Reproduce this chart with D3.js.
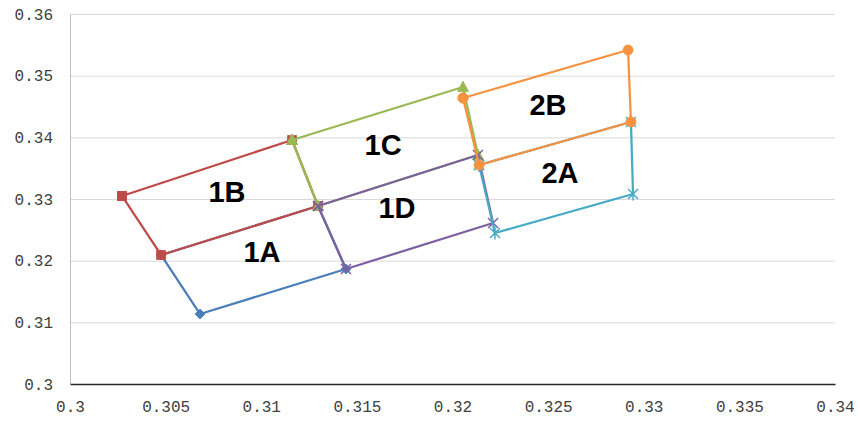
<!DOCTYPE html>
<html><head><meta charset="utf-8">
<script src="https://cdn.jsdelivr.net/npm/d3@7"></script>
<style>body{margin:0;background:#fff}svg{display:block}</style>
</head><body><div id="chart"></div>
<script>
// ---- data ----
const xTicks = [0.3, 0.305, 0.31, 0.315, 0.32, 0.325, 0.33, 0.335, 0.34];
const yTicks = [0.3, 0.31, 0.32, 0.33, 0.34, 0.35, 0.36];
const xTickLabels = ["0.3","0.305","0.31","0.315","0.32","0.325","0.33","0.335","0.34"];
const yTickLabels = ["0.3","0.31","0.32","0.33","0.34","0.35","0.36"];

const seriesNames = ["1A","1B","1C","1D","2A","2B"];
const s1A_x = [0.30476, 0.30680, 0.31443, 0.31297, 0.30476];
const s1A_y = [0.32092, 0.31135, 0.31865, 0.32886, 0.32092];
const s1B_x = [0.30272, 0.30476, 0.31297, 0.31161, 0.30272];
const s1B_y = [0.33049, 0.32092, 0.32886, 0.33957, 0.33049];
const s1C_x = [0.31161, 0.31297, 0.32133, 0.32055, 0.31161];
const s1C_y = [0.33957, 0.32886, 0.33714, 0.34816, 0.33957];
const s1D_x = [0.31297, 0.31443, 0.32212, 0.32133, 0.31297];
const s1D_y = [0.32886, 0.31865, 0.32611, 0.33714, 0.32886];
const s2A_x = [0.32139, 0.32222, 0.32944, 0.32933, 0.32139];
const s2A_y = [0.33551, 0.32449, 0.33081, 0.34249, 0.33551];
const s2B_x = [0.32055, 0.32139, 0.32933, 0.32918, 0.32055];
const s2B_y = [0.34638, 0.33551, 0.34249, 0.35416, 0.34638];

const areaLabels = ["1B","1A","1C","1D","2B","2A"];
const areaLabelX = [0.30821, 0.31004, 0.31637, 0.31710, 0.32499, 0.32562];
const areaLabelY = [0.32951, 0.31978, 0.33714, 0.32692, 0.34362, 0.33259];

// ---- layout ----
const W = 860, H = 423;
const L = 70, R = 835, T = 14, B = 384;
const colors = ["#4A7EBB","#BE4B48","#98B954","#7D60A0","#46AAC5","#F69240"];
const markers = ["diamond","square","triangle","x","star","circle"];

const series = [
  {x:s1A_x,y:s1A_y},{x:s1B_x,y:s1B_y},{x:s1C_x,y:s1C_y},
  {x:s1D_x,y:s1D_y},{x:s2A_x,y:s2A_y},{x:s2B_x,y:s2B_y}
].map((s,i)=>({name:seriesNames[i], pts:s.x.map((v,j)=>[v,s.y[j]])}));

const x = d3.scaleLinear().domain([0.3,0.34]).range([L,R]);
const y = d3.scaleLinear().domain([0.3,0.36]).range([B,T]);

const svg = d3.select("#chart").append("svg").attr("width",W).attr("height",H);

// gridlines
const gy = svg.append("g").attr("transform",`translate(${L},0)`)
  .call(d3.axisLeft(y).tickValues(yTicks.slice(1)).tickSize(-(R-L)).tickFormat(""));
gy.select(".domain").remove();
gy.selectAll(".tick line").attr("stroke","#d9d9d9").attr("stroke-width",1);

// left axis line
svg.append("line").attr("x1",L+0.5).attr("x2",L+0.5).attr("y1",T).attr("y2",B)
  .attr("stroke","#bfbfbf").attr("stroke-width",1);

// y labels
const yl = svg.append("g").attr("transform",`translate(${L},0)`)
  .call(d3.axisLeft(y).tickValues(yTicks).tickSize(0).tickPadding(17)
    .tickFormat((d,i)=>yTickLabels[i]));
yl.select(".domain").remove();
yl.selectAll("text").attr("font-family","Liberation Mono, DejaVu Sans Mono, monospace")
  .attr("font-size",16).attr("fill","#404040");

// x axis
const xl = svg.append("g").attr("transform",`translate(0,${B})`)
  .call(d3.axisBottom(x).tickValues(xTicks).tickSize(0).tickPadding(17)
    .tickFormat((d,i)=>xTickLabels[i]));
xl.select(".domain").attr("stroke","#262626").attr("stroke-width",1.6);
xl.selectAll("text").attr("font-family","Liberation Mono, DejaVu Sans Mono, monospace")
  .attr("font-size",16).attr("fill","#404040");

// lines & markers
const line = d3.line().x(d=>x(d[0])).y(d=>y(d[1]));
function markerPath(type){
  const s=5;
  switch(type){
    case "diamond": return `M0,${-s}L${s},0L0,${s}L${-s},0Z`;
    case "square": return `M${-4.5},${-4.5}h9v9h-9Z`;
    case "triangle": return `M0,-6L5.5,4.5L-5.5,4.5Z`;
    case "circle": return d3.symbol(d3.symbolCircle, 80)();
    case "x": return `M-5,-5L5,5M-5,5L5,-5`;
    case "star": return `M-5,-5L5,5M-5,5L5,-5M0,-6.5L0,6.5`;
  }
}
series.forEach((s,i)=>{
  const g = svg.append("g");
  g.append("path").attr("d",line(s.pts)).attr("fill","none")
    .attr("stroke",colors[i]).attr("stroke-width",2.25).attr("stroke-linejoin","round");
  const stroked = markers[i]==="x"||markers[i]==="star";
  g.selectAll("path.m").data(s.pts).join("path").attr("class","m")
    .attr("transform",d=>`translate(${x(d[0])},${y(d[1])})`)
    .attr("d",markerPath(markers[i]))
    .attr("fill",stroked?"none":colors[i])
    .attr("stroke",colors[i]).attr("stroke-width",stroked?1.5:0.75);
});

// area labels
svg.append("g").selectAll("text").data(areaLabels).join("text")
  .attr("x",(d,i)=>x(areaLabelX[i])).attr("y",(d,i)=>y(areaLabelY[i]))
  .attr("text-anchor","middle").attr("font-family","Liberation Sans, Arial, sans-serif")
  .attr("font-weight","bold").attr("font-size",29).attr("fill","#000")
  .text(d=>d);
</script></body></html>
